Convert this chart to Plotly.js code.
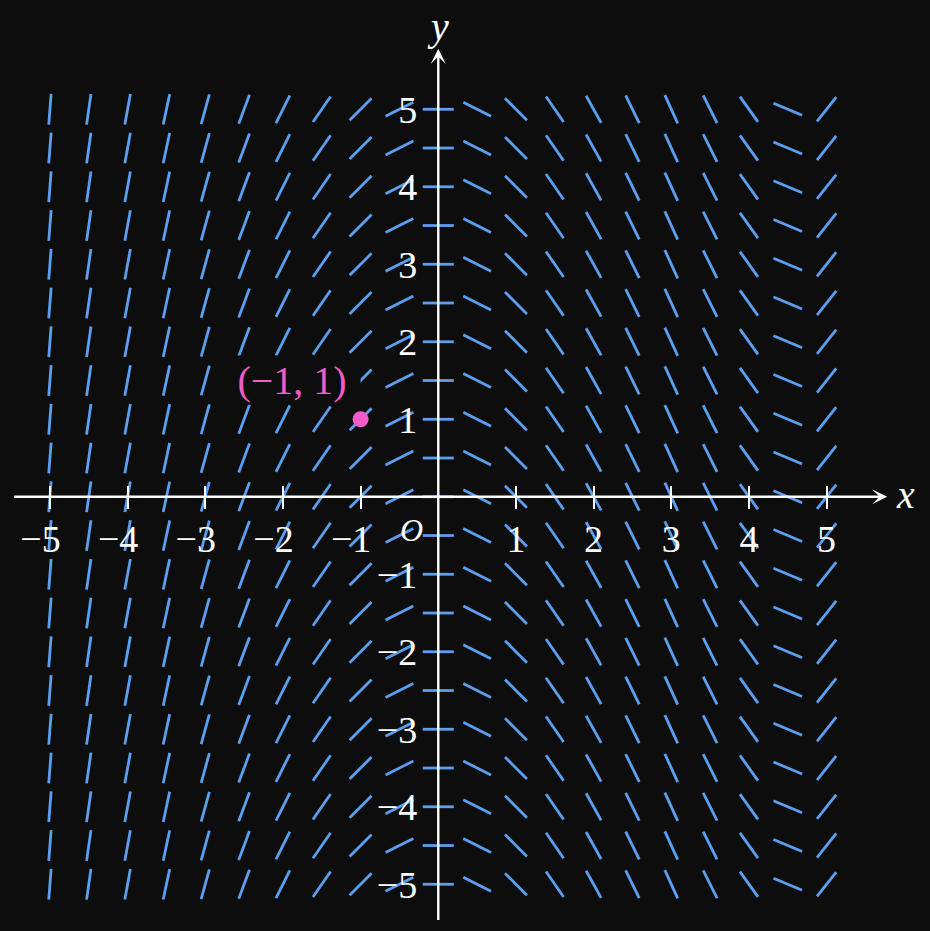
<!DOCTYPE html>
<html>
<head>
<meta charset="utf-8">
<script src="https://cdn.plot.ly/plotly-3.0.1.min.js"></script>
<style>
  html, body { margin: 0; padding: 0; background: #0d0d0d; }
  #chart { width: 930px; height: 931px; }
</style>
</head>
<body>
<div id="chart"></div>
<script>
// ---- data ----
const gridX = [-5, -4.5, -4, -3.5, -3, -2.5, -2, -1.5, -1, -0.5, 0, 0.5, 1, 1.5, 2, 2.5, 3, 3.5, 4, 4.5, 5];
const gridY = [-5, -4.5, -4, -3.5, -3, -2.5, -2, -1.5, -1, -0.5, 0, 0.5, 1, 1.5, 2, 2.5, 3, 3.5, 4, 4.5, 5];
// slope of the field in each column (it does not change along a column)
const columnSlopes = [13, 7.0, 5.5, 4.7, 3.65, 2.7, 2.0, 1.45, 1.0, 0.5, 0, -0.5, -1.0, -1.45, -1.8, -2.05, -2.2, -2.0, -1.4, -0.42, 1.27];

const xTickValues = [-5, -4, -3, -2, -1, 1, 2, 3, 4, 5];
const xTickLabels = ['−5', '−4', '−3', '−2', '−1', '1', '2', '3', '4', '5'];
const yTickValues = [-5, -4, -3, -2, -1, 1, 2, 3, 4, 5];
const yTickLabels = ['−5', '−4', '−3', '−2', '−1', '1', '2', '3', '4', '5'];

const pointX = [-1];
const pointY = [1];
const pointLabel = '(−1, 1)';

// ---- styles ----
const BG = '#0d0d0d';
const BLUE = '#5b9ff0';
const PINK = '#f25bc8';
const WHITE = '#ffffff';
const FONT = 'Liberation Serif, Times New Roman, serif';
const TICK_SIZE = 38;
const HALF = 0.2;            // half length of each slope segment (axis units)
const X_RANGE = [-5.643, 6.331];
const Y_RANGE = [-5.603, 6.410];
const AXIS_EXTENT = [-5.48, 5.78];

// build slope segments
const segX = [], segY = [];
gridX.forEach((x0, i) => {
  const m = columnSlopes[i];
  const ux = HALF / Math.sqrt(1 + m * m);
  const uy = m * ux;
  gridY.forEach(y0 => {
    segX.push(x0 - ux, x0 + ux, null);
    segY.push(y0 - uy, y0 + uy, null);
  });
});

const traces = [
  {
    type: 'scatter', mode: 'lines', x: segX, y: segY,
    line: { color: BLUE, width: 2.8 }, hoverinfo: 'skip', showlegend: false
  },
  {
    type: 'scatter', mode: 'markers', x: pointX, y: pointY,
    marker: { color: PINK, size: 16, line: { width: 0 } },
    hoverinfo: 'skip', showlegend: false
  }
];

// position of the zero lines as paper fractions
const xZeroFrac = (0 - Y_RANGE[0]) / (Y_RANGE[1] - Y_RANGE[0]);
const yZeroFrac = (0 - X_RANGE[0]) / (X_RANGE[1] - X_RANGE[0]);
const tickHalfPx = 11.5;

const layout = {
  width: 930, height: 931,
  margin: { l: 0, r: 0, t: 0, b: 0, pad: 0 },
  paper_bgcolor: BG, plot_bgcolor: BG,
  showlegend: false,
  xaxis: {
    range: X_RANGE, anchor: 'free', position: xZeroFrac + tickHalfPx / 931,
    showgrid: false, zeroline: false, showline: false,
    tickmode: 'array', tickvals: xTickValues,
    ticktext: xTickLabels.map(t => t.startsWith('−') ? t + '\u00a0\u00a0' : t),
    ticks: 'outside', ticklen: 2 * tickHalfPx, tickwidth: 2, tickcolor: WHITE,
    tickfont: { family: FONT, size: TICK_SIZE, color: WHITE },
    ticklabelstandoff: -3,
    fixedrange: true
  },
  yaxis: {
    range: Y_RANGE, anchor: 'free', position: yZeroFrac,
    showgrid: false, zeroline: false, showline: false,
    tickmode: 'array', tickvals: yTickValues, ticktext: yTickLabels,
    ticks: '', tickfont: { family: FONT, size: TICK_SIZE, color: WHITE },
    ticklabelstandoff: 21,
    fixedrange: true
  },
  annotations: [
    // axes with arrowheads
    { xref: 'x', yref: 'y', axref: 'x', ayref: 'y', x: AXIS_EXTENT[1], y: 0, ax: AXIS_EXTENT[0], ay: 0,
      text: '', showarrow: true, arrowhead: 3, arrowsize: 1.05, arrowwidth: 2.4, arrowcolor: WHITE },
    { xref: 'x', yref: 'y', axref: 'x', ayref: 'y', x: 0, y: AXIS_EXTENT[1], ax: 0, ay: AXIS_EXTENT[0],
      text: '', showarrow: true, arrowhead: 3, arrowsize: 1.05, arrowwidth: 2.4, arrowcolor: WHITE },
    // axis names and origin
    { xref: 'x', yref: 'y', x: 6.02, y: 0.03, text: 'x', showarrow: false,
      font: { family: FONT, size: 40, color: WHITE, style: 'italic' }, xanchor: 'center', yanchor: 'middle' },
    { xref: 'x', yref: 'y', x: 0, y: 6.07, text: 'y', showarrow: false,
      font: { family: FONT, size: 40, color: WHITE, style: 'italic' }, xanchor: 'center', yanchor: 'middle' },
    { xref: 'x', yref: 'y', x: -0.339, y: -0.428, text: 'O', showarrow: false,
      font: { family: FONT, size: 32, color: WHITE, style: 'italic' }, xanchor: 'center', yanchor: 'middle' },
    // point label
    { xref: 'x', yref: 'y', x: pointX[0], y: pointY[0], text: pointLabel, showarrow: false,
      xanchor: 'right', yanchor: 'bottom', xshift: 0, yshift: 14,
      width: 134, height: 46, align: 'center', valign: 'middle',
      bgcolor: BG, borderpad: 1,
      font: { family: FONT, size: 40, color: PINK } }
  ]
};

Plotly.newPlot('chart', traces, layout, { staticPlot: true, displayModeBar: false });
</script>
</body>
</html>
